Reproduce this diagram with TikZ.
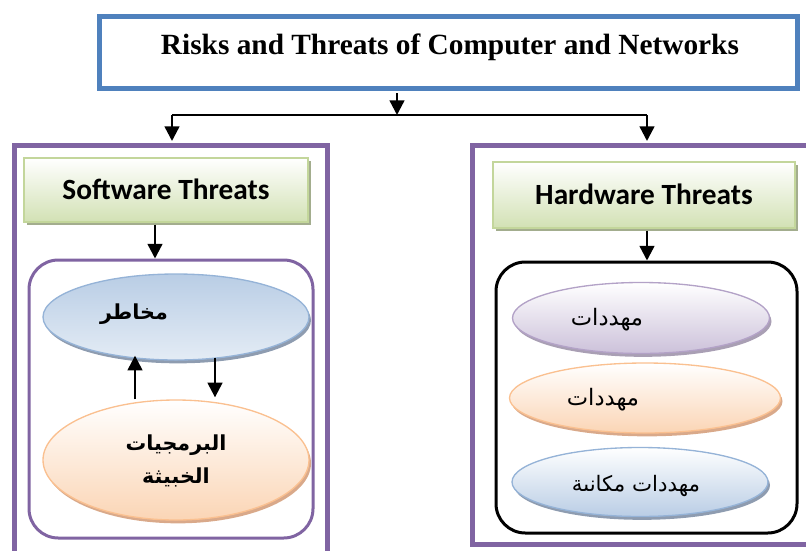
\documentclass[tikz,border=0pt]{standalone}
\usepackage{fontspec}
\setmainfont{Liberation Serif}
\newfontfamily\calib{Carlito}
\newfontfamily\arabicfont[Script=Arabic]{DejaVu Sans}
\TeXXeTstate=1
\usetikzlibrary{shapes.geometric,arrows.meta,fit,shadows,calc}
\definecolor{purp}{HTML}{8064A2}
\definecolor{tblue}{HTML}{4F81BD}
\definecolor{gborder}{HTML}{C3D69B}
\definecolor{gfill}{HTML}{D2E1B4}
\definecolor{gshadow}{HTML}{A3AD8E}
\definecolor{bluefill}{HTML}{B9CDE5}
\definecolor{bluelight}{HTML}{E4ECF5}
\definecolor{blueedge}{HTML}{95B3D7}
\definecolor{blueshadow}{HTML}{8E9CB0}
\definecolor{orfill}{HTML}{FBD5B5}
\definecolor{oredge}{HTML}{FAC090}
\definecolor{orshadow}{HTML}{D9A98A}
\definecolor{pufill}{HTML}{CCC1DA}
\definecolor{puedge}{HTML}{B3A2C7}
\definecolor{pushadow}{HTML}{A99FB4}
\tikzset{
  outerbox/.style={draw=purp, line width=3.75pt, inner sep=0pt},
  titlebox/.style={draw=tblue, line width=3.75pt, fill=white, inner sep=0pt},
  greenbox/.style={draw=gborder, line width=1pt, inner sep=0pt,
    top color=white, bottom color=gfill, shading angle=0,
    drop shadow={shadow xshift=2.5pt, shadow yshift=-2.5pt, fill=gshadow, opacity=1}},
  headtext/.style={font=\calib\bfseries\fontsize{22}{26}\selectfont},
  innerbox/.style={line width=2.25pt, rounded corners=22pt, inner sep=0pt},
  ell/.style={ellipse, inner sep=0pt, line width=1pt},
  blueell/.style={ell, draw=blueedge, top color=bluefill, bottom color=bluelight,
    drop shadow={shadow xshift=1.5pt, shadow yshift=-2.5pt, fill=blueshadow, opacity=1}},
  orell/.style={ell, draw=oredge, top color=white, bottom color=orfill,
    drop shadow={shadow xshift=1.5pt, shadow yshift=-2.5pt, fill=orshadow, opacity=1}},
  puell/.style={ell, draw=puedge, top color=white, bottom color=pufill,
    drop shadow={shadow xshift=1.5pt, shadow yshift=-2.5pt, fill=pushadow, opacity=1}},
  arbold/.style={font=\arabicfont\bfseries\fontsize{15.5}{22}\selectfont, align=center},
  arreg/.style={font=\arabicfont\fontsize{17}{20}\selectfont},
  ln/.style={draw=black, line width=1.8pt},
  arr/.style={ln, -{Triangle[width=11pt,length=11pt]}}
}
\begin{document}
\begin{tikzpicture}[x=0.75pt,y=-0.75pt]
\useasboundingbox (0,0) rectangle (806,550);
\clip (0,0) rectangle (806,550);

% title
\node[titlebox, fit={(99.5,16.5)(797.5,88.5)}] (title) {};
\node[font=\bfseries\fontsize{22}{26}\selectfont] (ttext) at (450,47) {Risks and Threats of Computer and Networks};

% outer boxes
\node[outerbox, fit={(14,145.5)(327.5,600)}] (lbox) {};
\node[outerbox, fit={(472.5,145.5)(830,544)}] (rbox) {};

% green headers
\node[greenbox, fit={(24,158)(308,222)}] (sw) {};
\node[headtext] (swt) at (166,189) {Software Threats};
\node[greenbox, fit={(493,162)(795,228)}] (hw) {};
\node[headtext] (hwt) at (644,194) {Hardware Threats};

% inner rounded boxes
\node[innerbox, draw=purp, fit={(29,260)(313,538)}] (inL) {};
\node[innerbox, draw=black, fit={(496,262)(797,533)}] (inR) {};

% left ellipses
\node[blueell, minimum width=199.5pt, minimum height=64.5pt] (mal) at (176,317) {};
\node[arbold] (maltext) at (134,314) {\beginR مخاطر\endR};
\node[orell, minimum width=199.5pt, minimum height=90pt] (bram) at (176,460) {};
\node[arbold] (bramtext) at (176,461) {\beginR البرمجيات\endR\\[3pt]\beginR الخبيثة\endR};

% right ellipses
\node[puell, minimum width=192.75pt, minimum height=53.25pt] (e1) at (641,318) {};
\node[arreg] (e1t) at (607,320) {\beginR مهددات\endR};
\node[orell, minimum width=203.25pt, minimum height=52.5pt] (e2) at (645,398) {};
\node[arreg] (e2t) at (603,400) {\beginR مهددات\endR};
\node[blueell, top color=white, bottom color=bluefill, minimum width=192pt, minimum height=51.75pt] (e3) at (640,482) {};
\node[arreg, font=\arabicfont\fontsize{16}{19}\selectfont] (e3t) at (636,486) {\beginR مهددات مكانىة\endR};

% connectors
\coordinate (j) at (397,115);
\coordinate (jl) at (172,115);
\coordinate (jr) at (647,115);
\coordinate (xsw) at (155,0);
\coordinate (xhw) at (647,0);
\coordinate (xup) at (135,0);
\coordinate (xdn) at (215,0);

\draw[arr] ($(title.south -| j)+(0,2)$) -- (j);
\draw[ln] (jl) -- (jr);
\draw[arr] (jl) -- ($(jl |- lbox.north)+(0,-2)$);
\draw[arr] (jr) -- ($(jr |- rbox.north)+(0,-2)$);
\draw[arr] ($(sw.south -| xsw)+(0,2)$) -- (inL.north -| xsw);
\draw[arr] ($(hw.south -| xhw)+(0,2)$) -- (inR.north -| xhw);
\draw[arr] (bram.north -| xup) -- ($(mal.south -| xup)+(0,-5)$);
\draw[arr] ($(mal.south -| xdn)+(0,-3)$) -- ($(bram.north -| xdn)+(0,-2)$);
\end{tikzpicture}
\end{document}
